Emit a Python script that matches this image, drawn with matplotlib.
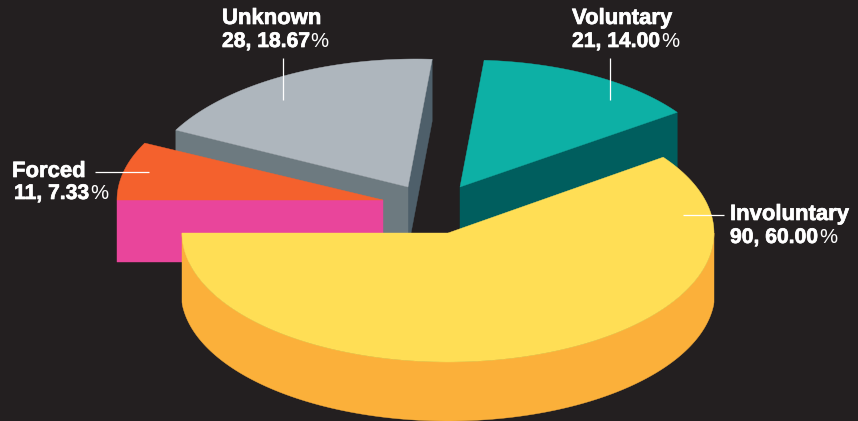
import numpy as np
import matplotlib
matplotlib.use("Agg")
import matplotlib.pyplot as plt
import matplotlib.patheffects as pe
from matplotlib.patches import Polygon

# data, in drawing order round the pie
categories = ["Involuntary", "Voluntary", "Unknown", "Forced"]
values = [90, 21, 28, 11]
percent_labels = ["60.00", "14.00", "18.67", "7.33"]

# styling
BG = "#231f20"
TOP = ["#ffde55", "#0db0a5", "#aeb6bd", "#f4612d"]
FACE_A = ["#fbb03a", "#005e5e", "#4e5f6a", None]   # rim / start cut
FACE_B = [None, None, "#6d7a80", "#e9459b"]        # end cut
APEX = [(448, 233), (460, 187), (408, 187), (383, 200)]
DEPTH = [59, 62, 62, 62]
RX = [266, 263, 263, 266]
RY = [129, 127, 128, 128]
SHEAR = [0.0, 0.06, 0.06, 0.0]     # slight perspective lean of the back slices
START = 180.0
RIM_FLARE = 1.0

LABEL_POS = [(730, 220, 730, 243), (572, 24, 572, 47), (222, 24, 222, 47), (12, 177, 14, 199)]
LEADERS = [((683, 724), (215, 215)), ((610, 610), (58, 100)),
           ((283, 283), (58, 100)), ((95, 149), (172, 172))]

FONT = "Liberation Sans"

fig = plt.figure(figsize=(8.58, 4.21), dpi=100, facecolor=BG)
ax = fig.add_axes([0, 0, 1, 1])
ax.set_xlim(0, 858)
ax.set_ylim(421, 0)
ax.axis("off")


def pt(i, deg):
    cx, cy = APEX[i]
    t = np.radians(deg)
    dy = RY[i] * np.sin(t)
    return np.array([cx + RX[i] * np.cos(t) + SHEAR[i] * dy, cy - dy])


def arc(i, a, b):
    return np.array([pt(i, d) for d in np.linspace(a, b, 160)])


def cut_face(i, deg, colour, z):
    apex = np.array(APEX[i], float)
    p = pt(i, deg)
    down = np.array([0, DEPTH[i]])
    ax.add_patch(Polygon([apex, p, p + down, apex + down], closed=True,
                         fc=colour, ec=colour, lw=0.3, zorder=z))


total = sum(values)
angle = START
spans = []
for v in values:
    spans.append((angle, angle + 360.0 * v / total))
    angle = spans[-1][1]

# back to front: Unknown, Voluntary, Forced, Involuntary
for z, i in enumerate([2, 1, 3, 0]):
    a, b = spans[i]
    base = z * 10 + 1
    if i == 0:
        top = arc(i, 180, 360)
        cx = APEX[i][0]
        xs = cx + (top[:, 0] - cx) * (RX[i] + RIM_FLARE) / RX[i]
        xs = np.clip(xs, cx - RX[i], cx + RX[i])
        low = np.column_stack([xs, top[:, 1] + DEPTH[i]])
        ax.add_patch(Polygon(np.vstack([top, low[::-1]]), closed=True,
                             fc=FACE_A[i], ec=FACE_A[i], lw=0.3, zorder=base))
    else:
        if FACE_A[i]:
            cut_face(i, a, FACE_A[i], base)
        if FACE_B[i]:
            cut_face(i, b, FACE_B[i], base + 1)
    ax.add_patch(Polygon(np.vstack([[APEX[i]], arc(i, a, b)]), closed=True,
                         fc=TOP[i], ec=TOP[i], lw=0.3, zorder=base + 2))

for (lx, ly) in LEADERS:
    ax.plot(lx, ly, color="white", lw=0.9, zorder=60, solid_capstyle="butt")

heavy = [pe.withStroke(linewidth=0.5, foreground="white")]
renderer = fig.canvas.get_renderer()
for i, name in enumerate(categories):
    x1, y1, x2, y2 = LABEL_POS[i]
    ax.text(x1, y1, name, family=FONT, weight="bold", size=15.9, color="white",
            va="baseline", ha="left", zorder=70, path_effects=heavy)
    t = ax.text(x2, y2, f"{values[i]}, {percent_labels[i]}", family=FONT, weight="bold",
                size=15.2, color="white", va="baseline", ha="left", zorder=70, path_effects=heavy)
    w = t.get_window_extent(renderer).width
    ax.text(x2 + w + 0.5, y2, "%", family=FONT, weight="normal", size=14.6, color="white",
            va="baseline", ha="left", zorder=70)

fig.savefig("out.png", dpi=100, facecolor=BG)
